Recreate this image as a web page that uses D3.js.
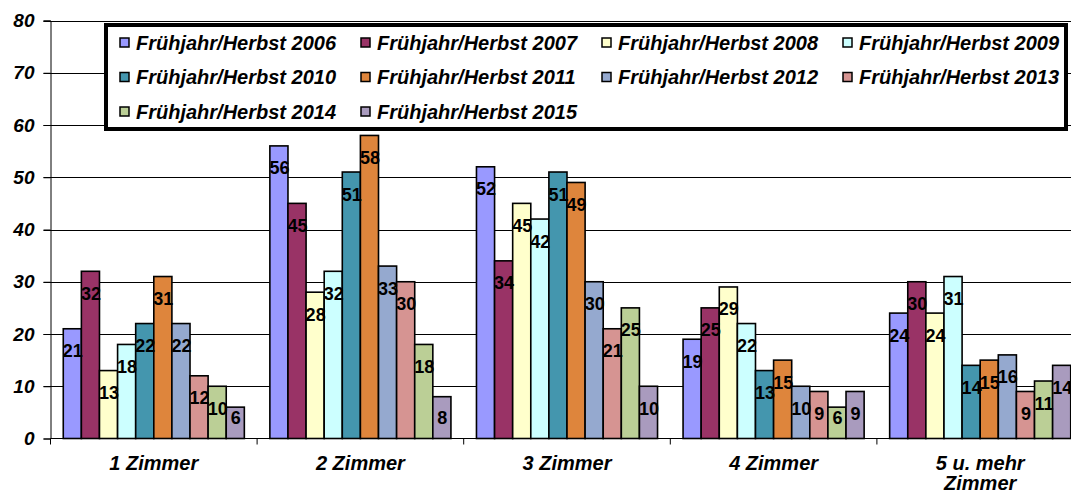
<!DOCTYPE html>
<html>
<head>
<meta charset="utf-8">
<script src="https://cdn.jsdelivr.net/npm/d3@7"></script>
<style>
  html, body { margin: 0; padding: 0; background: #fff; }
  svg { display: block; font-family: "Liberation Sans", Arial, sans-serif; }
</style>
</head>
<body>
<svg id="chart" width="1071" height="493"></svg>
<script>
// Wohnungsgrößen, Frühjahr/Herbst 2006–2015
const categories = ["1 Zimmer", "2 Zimmer", "3 Zimmer", "4 Zimmer", "5 u. mehr Zimmer"];
const seriesNames = [
  "Frühjahr/Herbst 2006", "Frühjahr/Herbst 2007", "Frühjahr/Herbst 2008",
  "Frühjahr/Herbst 2009", "Frühjahr/Herbst 2010", "Frühjahr/Herbst 2011",
  "Frühjahr/Herbst 2012", "Frühjahr/Herbst 2013", "Frühjahr/Herbst 2014",
  "Frühjahr/Herbst 2015"
];
const values2006 = [21, 56, 52, 19, 24];
const values2007 = [32, 45, 34, 25, 30];
const values2008 = [13, 28, 45, 29, 24];
const values2009 = [18, 32, 42, 22, 31];
const values2010 = [22, 51, 51, 13, 14];
const values2011 = [31, 58, 49, 15, 15];
const values2012 = [22, 33, 30, 10, 16];
const values2013 = [12, 30, 21, 9, 9];
const values2014 = [10, 18, 25, 6, 11];
const values2015 = [6, 8, 10, 9, 14];
const yTicks = [0, 10, 20, 30, 40, 50, 60, 70, 80];

const seriesValues = [values2006, values2007, values2008, values2009, values2010,
                      values2011, values2012, values2013, values2014, values2015];
const colors = ["#9999FF", "#993366", "#FFFFCC", "#CCFFFF", "#4496AE",
                "#DE853C", "#95A9CF", "#D69492", "#BBCF96", "#A99BBE"];

const svg = d3.select("#chart");
const plotLeft = 50.5, plotRight = 1083.5, plotTop = 20.5, plotBottom = 438.5;

const x0 = d3.scaleBand().domain(categories).range([plotLeft, plotRight]).padding(0);
const x1 = d3.scaleBand().domain(seriesNames).range([0, x0.bandwidth()])
  .paddingInner(0).paddingOuter(0.705);
const y = d3.scaleLinear().domain([0, 80]).range([plotBottom, plotTop]);

// horizontal gridlines
svg.append("g").selectAll("line").data(yTicks.filter(d => d > 0)).join("line")
  .attr("x1", plotLeft - 7).attr("x2", plotRight)
  .attr("y1", d => Math.round(y(d)) + 0.5).attr("y2", d => Math.round(y(d)) + 0.5)
  .attr("stroke", "#000").attr("stroke-width", 1);

// y axis
const yAxis = svg.append("g").attr("transform", `translate(${plotLeft},0)`)
  .call(d3.axisLeft(y).tickValues(yTicks).tickSize(7).tickPadding(9).tickFormat(d3.format("d")));
yAxis.select(".domain").attr("stroke", "#000");
yAxis.selectAll(".tick line").attr("stroke", "#000");
yAxis.selectAll(".tick text")
  .attr("font-size", 19).attr("font-weight", "bold").attr("font-style", "italic")
  .attr("font-family", "Liberation Sans, Arial, sans-serif").attr("fill", "#000");

// bars
const groups = svg.append("g").selectAll("g").data(categories).join("g")
  .attr("transform", d => `translate(${x0(d)},0)`);

const barData = (c, ci) => seriesNames.map((s, si) => ({ s, si, v: seriesValues[si][ci] }));

groups.selectAll("rect").data((c, ci) => barData(c, ci)).join("rect")
  .attr("x", d => x1(d.s))
  .attr("y", d => y(d.v))
  .attr("width", x1.bandwidth())
  .attr("height", d => y(0) - y(d.v))
  .attr("fill", d => colors[d.si])
  .attr("stroke", "#000").attr("stroke-width", 1.6);

// value labels inside bar ends
groups.selectAll("text.val").data((c, ci) => barData(c, ci)).join("text")
  .attr("class", "val")
  .attr("x", d => x1(d.s) + x1.bandwidth() / 2 + 0.5)
  .attr("y", d => Math.min(y(d.v) + 28.5, y(0) - 14.5))
  .attr("text-anchor", "middle")
  .attr("font-size", 18).attr("font-weight", "bold").attr("fill", "#000")
  .text(d => d.v);

// x axis baseline and category ticks
svg.append("line").attr("x1", plotLeft).attr("x2", plotRight)
  .attr("y1", plotBottom).attr("y2", plotBottom).attr("stroke", "#000");
svg.append("g").selectAll("line").data(d3.range(categories.length + 1)).join("line")
  .attr("x1", i => plotLeft + i * x0.step()).attr("x2", i => plotLeft + i * x0.step())
  .attr("y1", plotBottom).attr("y2", plotBottom + 6).attr("stroke", "#000");

// category labels, wrapping long names onto two lines
const catText = svg.append("g").selectAll("text").data(categories).join("text")
  .attr("x", d => x0(d) + x0.bandwidth() / 2)
  .attr("y", 470)
  .attr("text-anchor", "middle")
  .attr("font-size", 20).attr("font-weight", "bold").attr("font-style", "italic")
  .attr("fill", "#000");
catText.each(function (d) {
  const t = d3.select(this);
  const cx = x0(d) + x0.bandwidth() / 2;
  t.text(d);
  if (this.getComputedTextLength() > 130) {
    const cut = d.lastIndexOf(" ");
    t.text(null);
    t.append("tspan").attr("x", cx).attr("dy", 0).text(d.slice(0, cut));
    t.append("tspan").attr("x", cx).attr("dy", 20).text(d.slice(cut + 1));
  }
});

// legend
const legend = svg.append("g");
legend.append("rect")
  .attr("x", 106).attr("y", 25).attr("width", 960).attr("height", 104)
  .attr("fill", "#fff").attr("stroke", "#000").attr("stroke-width", 4);
const items = legend.selectAll("g").data(seriesNames).join("g")
  .attr("transform", (d, i) => `translate(${120 + (i % 4) * 241},${42.5 + Math.floor(i / 4) * 34.5})`);
items.append("rect")
  .attr("x", 0).attr("y", -4.5).attr("width", 9).attr("height", 9)
  .attr("fill", (d, i) => colors[i]).attr("stroke", "#000").attr("stroke-width", 1.5);
items.append("text")
  .attr("x", 16).attr("y", 7)
  .attr("font-size", 20).attr("font-weight", "bold").attr("font-style", "italic")
  .attr("fill", "#000")
  .text(d => d);
</script>
</body>
</html>
